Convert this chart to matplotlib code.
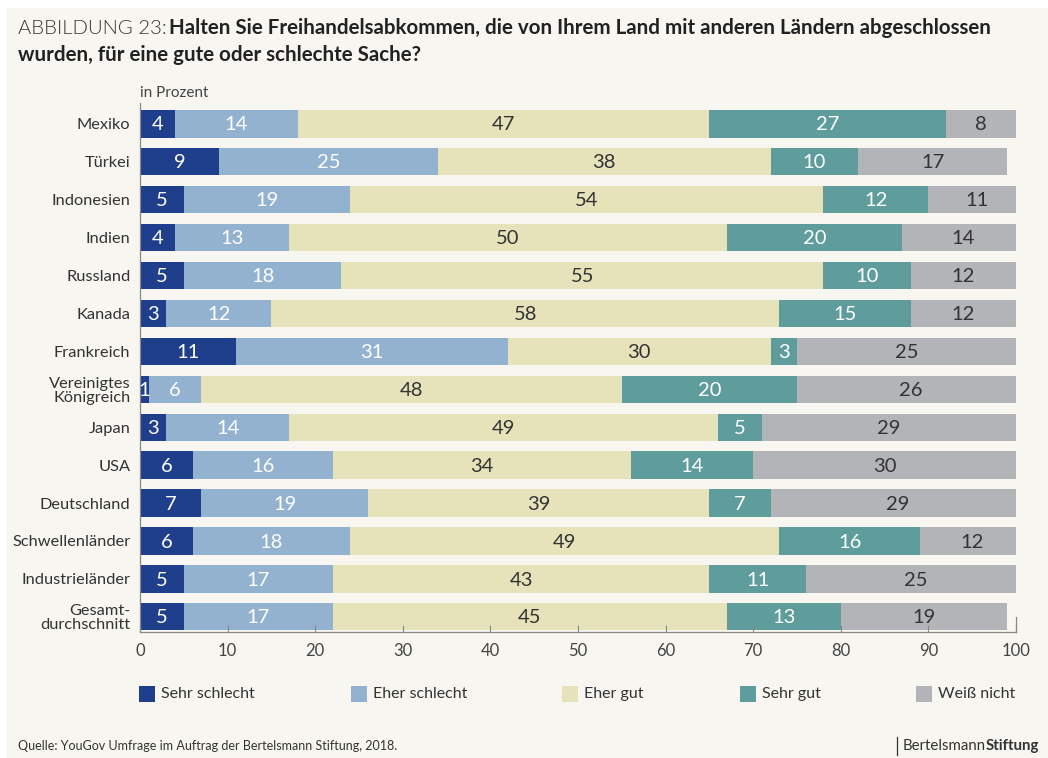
import numpy as np
import matplotlib.pyplot as plt
from matplotlib.patches import Rectangle

plt.rcParams['font.family'] = ['Lato', 'DejaVu Sans']

laender = ['Mexiko', 'Türkei', 'Indonesien', 'Indien', 'Russland', 'Kanada',
           'Frankreich', 'Vereinigtes\nKönigreich', 'Japan', 'USA', 'Deutschland',
           'Schwellenländer', 'Industrieländer', 'Gesamt-\ndurchschnitt']

kategorien = ['Sehr schlecht', 'Eher schlecht', 'Eher gut', 'Sehr gut', 'Weiß nicht']

sehr_schlecht = [4, 9, 5, 4, 5, 3, 11, 1, 3, 6, 7, 6, 5, 5]
eher_schlecht = [14, 25, 19, 13, 18, 12, 31, 6, 14, 16, 19, 18, 17, 17]
eher_gut = [47, 38, 54, 50, 55, 58, 30, 48, 49, 34, 39, 49, 43, 45]
sehr_gut = [27, 10, 12, 20, 10, 15, 3, 20, 5, 14, 7, 16, 11, 13]
weiss_nicht = [8, 17, 11, 14, 12, 12, 25, 26, 29, 30, 29, 12, 25, 19]

farben = ['#1f3f8c', '#93b2d0', '#e6e3bb', '#5f9d9d', '#b2b4b7']
textfarben = ['white', 'white', '#333333', 'white', '#333333']

W, H = 1048, 758
bg = '#f7f6f0'
fig = plt.figure(figsize=(W / 100, H / 100), dpi=100, facecolor='white')
fig.add_artist(Rectangle((7 / W, 0), 1 - 7 / W, 1 - 8 / H,
                         transform=fig.transFigure, facecolor=bg,
                         edgecolor='none', zorder=-10))

ax = fig.add_axes([140 / W, 126 / H, 876 / W, 529 / H])
ax.set_facecolor(bg)

serien = [sehr_schlecht, eher_schlecht, eher_gut, sehr_gut, weiss_nicht]
y = np.arange(len(laender))
links = np.zeros(len(laender))
for werte, farbe, tf in zip(serien, farben, textfarben):
    werte = np.array(werte, dtype=float)
    ax.barh(y, werte, left=links, height=0.72, color=farbe, edgecolor='none')
    for yi, l, w in zip(y, links, werte):
        ax.text(l + w / 2, yi + 0.03, f'{int(w)}', ha='center', va='center',
                color=tf, fontsize=14.5)
    links += werte

ax.set_xlim(0, 100)
ax.set_ylim(13.4, -0.55)
ax.set_yticks(y)
ax.set_yticklabels(laender, fontsize=11.8, color='#333333', linespacing=1.0)
ax.set_xticks(range(0, 101, 10))
ax.tick_params(axis='x', direction='in', length=5, color='#888888',
               labelsize=12, labelcolor='#444444', pad=8)
ax.tick_params(axis='y', length=0, pad=7)
ax.spines['top'].set_visible(False)
for s in ['left', 'bottom', 'right']:
    ax.spines[s].set_color('#888888')
    ax.spines[s].set_linewidth(0.9)
ax.spines['right'].set_bounds(13.4, 13.0)

# Titel: heller Vorspann, danach fett
t0 = fig.text(18 / W, 1 - 28 / H, 'ABBILDUNG 23:', fontsize=14.6, weight=300,
              color='#333333', va='center')
fig.canvas.draw()
x0 = t0.get_window_extent().x1 + 2
fig.text(x0 / W, 1 - 28 / H,
         'Halten Sie Freihandelsabkommen, die von Ihrem Land mit anderen Ländern abgeschlossen',
         fontsize=14.8, weight='bold', color='#222222', va='center')
fig.text(18 / W, 1 - 55 / H, 'wurden, für eine gute oder schlechte Sache?',
         fontsize=14.8, weight='bold', color='#222222', va='center')
fig.text(140 / W, 1 - 93 / H, 'in Prozent', fontsize=11, color='#444444',
         va='center')

# Legende
legende_x = [139, 351, 562, 740, 916]
for x, k, f in zip(legende_x, kategorien, farben):
    fig.add_artist(Rectangle((x / W, 1 - 702 / H), 16 / W, 16 / H,
                             transform=fig.transFigure, facecolor=f,
                             edgecolor='none'))
    fig.text((x + 22) / W, 1 - 694 / H, k, fontsize=11.5, color='#333333',
             va='center')

# Quelle und Logo
fig.text(18 / W, 1 - 746 / H,
         'Quelle: YouGov Umfrage im Auftrag der Bertelsmann Stiftung, 2018.',
         fontsize=9, color='#333333', va='center')
fig.add_artist(plt.Line2D([897 / W, 897 / W], [1 - 755 / H, 1 - 737 / H],
                          transform=fig.transFigure, color='#333333', lw=0.9))
t = fig.text(903 / W, 1 - 746 / H, 'Bertelsmann', fontsize=10.8,
             color='#333333', va='center')
fig.canvas.draw()
bb = t.get_window_extent()
fig.text(bb.x1 / W, 1 - 746 / H, 'Stiftung', fontsize=10.8, weight='bold',
         color='#333333', va='center')

fig.savefig('out.png', dpi=100, facecolor=fig.get_facecolor())
